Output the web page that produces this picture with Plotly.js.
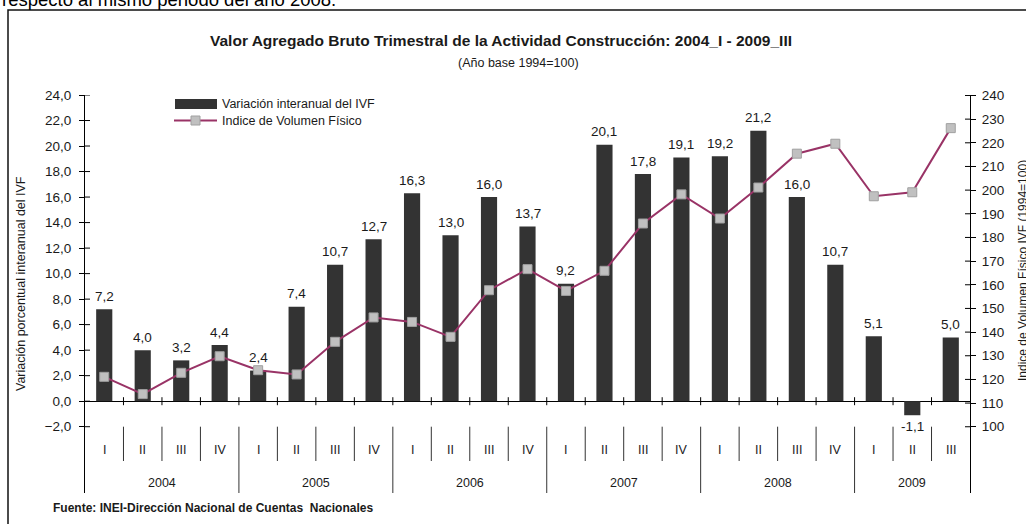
<!DOCTYPE html>
<html>
<head>
<meta charset="utf-8">
<script src="https://cdn.plot.ly/plotly-3.0.1.min.js"></script>
<style>html,body{margin:0;padding:0;background:#fff;}#chart{width:1026px;height:524px;}</style>
</head>
<body>
<div id="chart"></div>
<script>
// ---------- data ----------
const periodYear = ['2004','2004','2004','2004','2005','2005','2005','2005','2006','2006','2006','2006',
                    '2007','2007','2007','2007','2008','2008','2008','2008','2009','2009','2009'];
const periodQuarter = ['I','II','III','IV','I','II','III','IV','I','II','III','IV',
                       'I','II','III','IV','I','II','III','IV','I','II','III'];
const yearLabels = ['2004','2005','2006','2007','2008','2009'];
const ivfVariation = [7.2, 4.0, 3.2, 4.4, 2.4, 7.4, 10.7, 12.7, 16.3, 13.0, 16.0, 13.7,
                      9.2, 20.1, 17.8, 19.1, 19.2, 21.2, 16.0, 10.7, 5.1, -1.1, 5.0];
const ivfIndex = [121.1, 113.8, 122.8, 129.8, 123.9, 122.1, 135.9, 146.2, 144.3, 138.0, 157.7, 166.6,
                  157.4, 165.9, 185.9, 198.2, 188.0, 201.1, 215.4, 219.6, 197.4, 199.1, 226.2];
const leftTicks = [-2, 0, 2, 4, 6, 8, 10, 12, 14, 16, 18, 20, 22, 24];
const rightTicks = [100, 110, 120, 130, 140, 150, 160, 170, 180, 190, 200, 210, 220, 230, 240];

const seriesBarName = 'Variación interanual del IVF';
const seriesLineName = 'Indice de Volumen Físico';
const titleText = 'Valor Agregado Bruto Trimestral de la Actividad Construcción: 2004_I - 2009_III';
const subtitleText = '(Año base 1994=100)';
const leftTitle = 'Variación porcentual interanual del IVF';
const rightTitle = 'Indice de Volumen Físico IVF (1994=100)';
const sourceText = 'Fuente: INEI-Dirección Nacional de Cuentas  Nacionales';
const headerText = 'respecto al mismo periodo del año 2008.';

// ---------- layout helpers ----------
const FONT = '"Liberation Sans", Arial, sans-serif';
const TXT = '#1a1a1a';
const W = 1026, H = 524;
const M = {l: 85, r: 56, t: 95, b: 31};
const PW = W - M.l - M.r, PH = H - M.t - M.b;
const px = x => (x - M.l) / PW;
const py = y => (H - M.b - y) / PH;

const cats = periodYear.map((y, i) => y + '-' + periodQuarter[i]);
const fmt = v => v.toFixed(1).replace('.', ',');

const barTrace = {
  type: 'bar', x: cats, y: ivfVariation, name: seriesBarName,
  marker: {color: '#333333'}, width: 0.42, hoverinfo: 'x+y', showlegend: false
};
const lineTrace = {
  type: 'scatter', mode: 'lines+markers', x: cats, y: ivfIndex, yaxis: 'y2', name: seriesLineName,
  line: {color: '#993366', width: 2},
  marker: {symbol: 'square', size: 9, color: '#c0c0c0', line: {color: '#a0a0a0', width: 1}},
  showlegend: false
};

const shapes = [];
const annotations = [];

// inner halves of crossing tick marks on the value axes
leftTicks.forEach(v => shapes.push({type: 'line', xref: 'paper', yref: 'y', xsizemode: 'pixel', xanchor: 0,
  x0: 0, x1: 5, y0: v, y1: v, line: {color: '#000', width: 1}}));
rightTicks.forEach(v => shapes.push({type: 'line', xref: 'paper', yref: 'y2', xsizemode: 'pixel', xanchor: 1,
  x0: -5, x1: 0, y0: v, y1: v, line: {color: '#000', width: 1}}));

// category boundary ticks on the zero line and label dividers
for (let i = 1; i < cats.length; i++) {
  shapes.push({type: 'line', xref: 'x', yref: 'y', ysizemode: 'pixel', yanchor: 0,
    x0: i - 0.5, x1: i - 0.5, y0: -4, y1: 4, line: {color: '#000', width: 1}});
  const yearBreak = periodYear[i] !== periodYear[i - 1];
  shapes.push({type: 'line', xref: 'x', yref: 'paper', x0: i - 0.5, x1: i - 0.5,
    y0: py(426.7), y1: yearBreak ? 0 : py(461), line: {color: '#333', width: 1}});
}

// quarter labels
periodQuarter.forEach((q, i) => annotations.push({x: i, y: py(450), xref: 'x', yref: 'paper', text: q,
  showarrow: false, font: {family: FONT, size: 12.5, color: TXT}, yanchor: 'middle'}));
// year labels
yearLabels.forEach(yr => {
  const idx = periodYear.map((y, i) => y === yr ? i : null).filter(v => v !== null);
  const mid = (idx[0] + idx[idx.length - 1]) / 2;
  annotations.push({x: mid, y: py(483), xref: 'x', yref: 'paper', text: yr, showarrow: false,
    font: {family: FONT, size: 12.5, color: TXT}, yanchor: 'middle'});
});

// bar value labels
ivfVariation.forEach((v, i) => annotations.push({x: i, y: v, xref: 'x', yref: 'y', text: fmt(v),
  showarrow: false, yanchor: 'middle', yshift: v >= 0 ? 13 : -11,
  font: {family: FONT, size: 13.5, color: TXT}}));

// titles
annotations.push({x: px(501), y: py(41), xref: 'paper', yref: 'paper', text: '<b>' + titleText + '</b>',
  showarrow: false, font: {family: FONT, size: 15.5, color: TXT}, yanchor: 'middle'});
annotations.push({x: px(518), y: py(63), xref: 'paper', yref: 'paper', text: subtitleText,
  showarrow: false, font: {family: FONT, size: 12.5, color: TXT}, yanchor: 'middle'});
annotations.push({x: px(21), y: py(284), xref: 'paper', yref: 'paper', text: leftTitle, textangle: -90,
  showarrow: false, font: {family: FONT, size: 12.5, color: TXT}, xanchor: 'center', yanchor: 'middle'});
annotations.push({x: px(1023), y: py(271), xref: 'paper', yref: 'paper', text: rightTitle, textangle: -90,
  showarrow: false, font: {family: FONT, size: 12, color: TXT}, xanchor: 'center', yanchor: 'middle'});
annotations.push({x: px(51), y: py(508), xref: 'paper', yref: 'paper', text: '<b>' + sourceText + '</b>',
  showarrow: false, font: {family: FONT, size: 12, color: TXT}, xanchor: 'left', yanchor: 'middle'});
annotations.push({x: px(0), y: py(-1), xref: 'paper', yref: 'paper', text: headerText,
  showarrow: false, font: {family: FONT, size: 18.5, color: '#000'}, xanchor: 'left', yanchor: 'middle'});

// legend (drawn)
shapes.push({type: 'rect', xref: 'paper', yref: 'paper', x0: px(175), x1: px(217), y0: py(99), y1: py(109),
  fillcolor: '#333333', line: {width: 0}});
shapes.push({type: 'line', xref: 'paper', yref: 'paper', x0: px(174), x1: px(217), y0: py(120.5), y1: py(120.5),
  line: {color: '#993366', width: 2}});
shapes.push({type: 'rect', xref: 'paper', yref: 'paper', x0: px(191), x1: px(200), y0: py(116), y1: py(125),
  fillcolor: '#c0c0c0', line: {color: '#a0a0a0', width: 1}});
annotations.push({x: px(220), y: py(104), xref: 'paper', yref: 'paper', text: seriesBarName, showarrow: false,
  xanchor: 'left', yanchor: 'middle', font: {family: FONT, size: 12.5, color: TXT}});
annotations.push({x: px(220), y: py(121), xref: 'paper', yref: 'paper', text: seriesLineName, showarrow: false,
  xanchor: 'left', yanchor: 'middle', font: {family: FONT, size: 12.5, color: TXT}});

// outer chart frame
shapes.push({type: 'rect', xref: 'paper', yref: 'paper', x0: px(8), x1: px(1040), y0: py(10), y1: py(540),
  line: {color: '#111', width: 1.5}, fillcolor: 'rgba(0,0,0,0)'});

const layout = {
  width: W, height: H, autosize: false, margin: M,
  paper_bgcolor: '#fff', plot_bgcolor: '#fff',
  separators: ',.',
  showlegend: false,
  font: {family: FONT, size: 13, color: TXT},
  xaxis: {type: 'category', range: [-0.5, cats.length - 0.5], showticklabels: false, ticks: '',
    showgrid: false, zeroline: false, showline: false, fixedrange: true},
  yaxis: {range: [-7.196, 24], tickvals: leftTicks, tickformat: '.1f', ticks: 'outside', ticklen: 5,
    tickcolor: '#000', showline: true, linecolor: '#000', linewidth: 1, showgrid: false,
    zeroline: true, zerolinecolor: '#000', zerolinewidth: 1, tickfont: {family: FONT, size: 13.5, color: TXT},
    ticklabelstandoff: 5},
  yaxis2: {overlaying: 'y', side: 'right', range: [72, 240.2], tickvals: rightTicks, ticks: 'outside',
    ticklen: 5, tickcolor: '#000', showline: true, linecolor: '#000', linewidth: 1, showgrid: false,
    zeroline: false, tickfont: {family: FONT, size: 13.5, color: TXT}, ticklabelstandoff: 3},
  shapes: shapes,
  annotations: annotations
};

Plotly.newPlot('chart', [barTrace, lineTrace], layout, {displayModeBar: false, staticPlot: true});
</script>
</body>
</html>
